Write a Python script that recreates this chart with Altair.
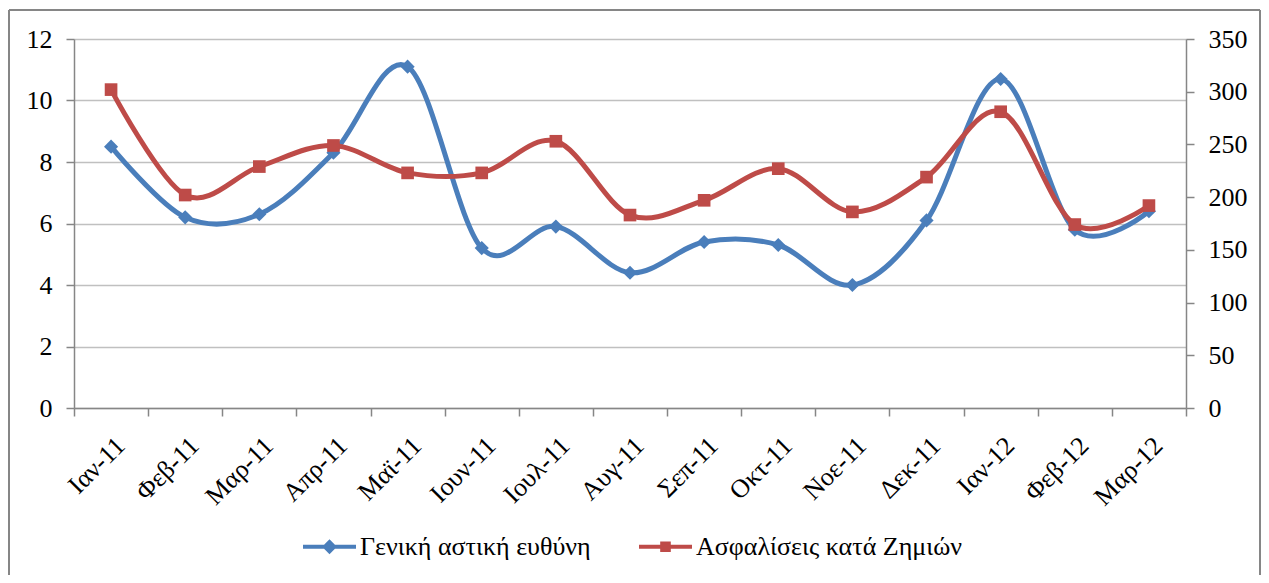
import altair as alt
import pandas as pd

months = ["Ιαν-11", "Φεβ-11", "Μαρ-11", "Απρ-11", "Μαϊ-11", "Ιουν-11", "Ιουλ-11",
          "Αυγ-11", "Σεπ-11", "Οκτ-11", "Νοε-11", "Δεκ-11", "Ιαν-12", "Φεβ-12", "Μαρ-12"]
gen_values = [8.5, 6.2, 6.3, 8.3, 11.1, 5.2, 5.9, 4.4, 5.4, 5.3, 4.0, 6.1, 10.7, 5.8, 6.4]
asf_values = [302, 202, 229, 249, 223, 223, 253, 183, 197, 227, 186, 219, 281, 174, 192]
series_names = ["Γενική αστική ευθύνη", "Ασφαλίσεις κατά Ζημιών"]
series_colors = ["#4A7EBB", "#BE4B48"]
left_ticks = [0, 2, 4, 6, 8, 10, 12]
right_ticks = [0, 50, 100, 150, 200, 250, 300, 350]

df = pd.DataFrame({"month": months, "gen": gen_values, "asf": asf_values})
legend_df = pd.DataFrame({"series": series_names})

FONT = "Liberation Serif"
FS = 26
AXIS_COLOR = "#868686"

diamond_path = "M-1,-0.075H1V0.075H-1ZM0,-0.28L0.28,0L0,0.28L-0.28,0Z"
square_path = "M-1,-0.075H1V0.075H-1ZM-0.2,-0.2H0.2V0.2H-0.2Z"

legend = alt.Legend(
    title=None, orient="none", legendX=229, legendY=481, direction="horizontal",
    labelFont=FONT, labelFontSize=FS, labelColor="black", labelOffset=4, labelLimit=0,
    symbolSize=2809, symbolStrokeWidth=0, symbolOpacity=1, columnPadding=48, padding=0,
)

x_enc = alt.X("month:N", sort=months, title=None,
              scale=alt.Scale(type="band", paddingInner=0, paddingOuter=0),
              bandPosition=0.5,
              axis=alt.Axis(labelAngle=-45, labelAlign="right", labelBaseline="top",
                            labelPadding=16, tickBand="extent", tickSize=8,
                            domainColor=AXIS_COLOR, tickColor=AXIS_COLOR,
                            domainWidth=1.5, tickWidth=1.5,
                            labelFont=FONT, labelFontSize=FS, labelColor="black",
                            grid=False))

base = alt.Chart(df)

y_left = alt.Y("gen:Q", title=None, scale=alt.Scale(domain=[0, 12], nice=False),
               axis=alt.Axis(values=left_ticks, orient="left", tickSize=8, labelPadding=14,
                             domainColor=AXIS_COLOR, tickColor=AXIS_COLOR,
                             domainWidth=1.5, tickWidth=1.5,
                             gridColor="#C0C0C0", gridWidth=1.5, grid=True,
                             labelFont=FONT, labelFontSize=FS, labelColor="black"))
y_right = alt.Y("asf:Q", title=None, scale=alt.Scale(domain=[0, 350], nice=False),
                axis=alt.Axis(values=right_ticks, orient="right", tickSize=8, labelPadding=14,
                              domainColor=AXIS_COLOR, tickColor=AXIS_COLOR,
                              domainWidth=1.5, tickWidth=1.5, grid=False,
                              labelFont=FONT, labelFontSize=FS, labelColor="black"))

gen_line = base.mark_line(interpolate="cardinal", tension=0, strokeWidth=5,
                          color=series_colors[0]).encode(x=x_enc, y=y_left)
gen_pts = base.mark_point(shape="diamond", filled=True, size=200, opacity=1,
                          color=series_colors[0]).encode(x=x_enc, y=y_left)
asf_line = base.mark_line(interpolate="cardinal", tension=0, strokeWidth=5,
                          color=series_colors[1]).encode(x=x_enc, y=y_right)
asf_pts = base.mark_point(shape="square", filled=True, size=160, opacity=1,
                          color=series_colors[1]).encode(x=x_enc, y=y_right)

gen_layer = alt.layer(gen_line, gen_pts)
asf_layer = alt.layer(asf_line, asf_pts)

legend_layer = alt.Chart(legend_df).mark_point(filled=True, opacity=0).encode(
    color=alt.Color("series:N", scale=alt.Scale(domain=series_names, range=series_colors),
                    legend=legend),
    shape=alt.Shape("series:N", scale=alt.Scale(domain=series_names,
                                                range=[diamond_path, square_path]),
                    legend=legend),
)

frame_left = base.mark_rule(color=AXIS_COLOR, strokeWidth=1.5).encode(
    x=alt.value(-65), y=alt.value(-29), y2=alt.value(536))
frame_top = base.mark_rule(color=AXIS_COLOR, strokeWidth=1.5).encode(
    x=alt.value(-65), x2=alt.value(1186), y=alt.value(-29))
frame_right = base.mark_rule(color=AXIS_COLOR, strokeWidth=1.5).encode(
    x=alt.value(1186), y=alt.value(-29), y2=alt.value(536))

chart = alt.layer(gen_layer, asf_layer, legend_layer, frame_left, frame_top, frame_right).resolve_scale(
    y="independent"
).properties(
    width=1112, height=369,
    autosize=alt.AutoSizeParams(type="none"),
    padding={"left": 66, "top": 31, "right": 75, "bottom": 167},
    background="white",
).configure_view(stroke=None)

chart.save("out.html", embed_options={"renderer": "svg", "actions": False})
